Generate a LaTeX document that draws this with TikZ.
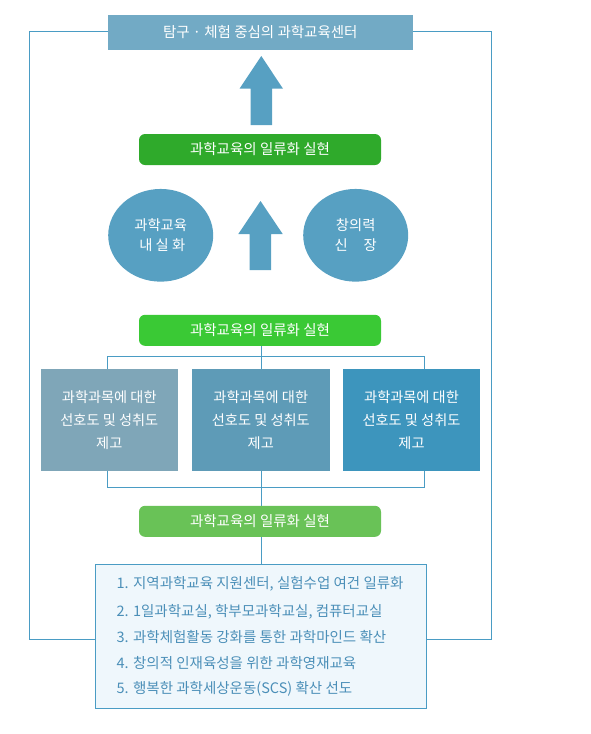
\documentclass[tikz,border=0pt]{standalone}
\usepackage{fontspec}
\setmainfont{Noto Sans CJK KR}
\usetikzlibrary{backgrounds,shapes.geometric}
\definecolor{topc}{HTML}{72AAC5}
\definecolor{arrowc}{HTML}{57A0C2}
\definecolor{gA}{HTML}{2FAA2B}
\definecolor{gB}{HTML}{3AC935}
\definecolor{gC}{HTML}{69C257}
\definecolor{ellc}{HTML}{57A0C2}
\definecolor{bA}{HTML}{7FA6B8}
\definecolor{bB}{HTML}{5E9BB7}
\definecolor{bC}{HTML}{3D95BD}
\definecolor{linec}{HTML}{4A9CC4}
\definecolor{listfill}{HTML}{EFF7FC}
\definecolor{listtext}{HTML}{4B8FB8}
\begin{document}
\begin{tikzpicture}[x=1pt,y=-1pt,
  every node/.style={inner sep=0pt,outer sep=0pt},
  conn/.style={draw=linec,line width=0.8pt},
  greenbar/.style={rounded corners=6pt,minimum width=242pt,minimum height=31pt,text=white,font=\fontsize{14.5}{16}\selectfont},
  ellnode/.style={ellipse,fill=ellc,minimum width=105pt,minimum height=92.7pt,text=white,align=center,font=\fontsize{14.3}{20}\selectfont},
  boxnode/.style={minimum height=101.7pt,text=white,align=center,font=\fontsize{14.2}{23}\selectfont},
  listline/.style={anchor=base west,text=listtext,font=\fontsize{14.5}{16}\selectfont},
  bigarrow/.style={fill=arrowc}
]
\useasboundingbox (0,0) rectangle (590,734);

% top box
\node[fill=topc,minimum width=304.7pt,minimum height=34.7pt,text=white,font=\fontsize{14.5}{16}\selectfont] (top) at (260.3,32.3) {탐구 · 체험 중심의 과학교육센터};

% arrow 1
\fill[bigarrow] (261.3,56) -- (283,88.7) -- (272,88.7) -- (272,125) -- (250.7,125) -- (250.7,88.7) -- (239.5,88.7) -- cycle;

\node[greenbar,fill=gA] (g1) at (260,149.5) {과학교육의 일류화 실현};

% ellipses
\node[ellnode] (e1) at (160.7,235.3) {과학교육\\\ 내 실 화};
\node[ellnode] (e2) at (355.7,235.3) {창의력\\신\hspace{16pt}장};

% arrow 2
\fill[bigarrow] (260.5,201) -- (282.7,234) -- (271,234) -- (271,270) -- (249.7,270) -- (249.7,234) -- (238.3,234) -- cycle;

\node[greenbar,fill=gB] (g2) at (260,330.3) {과학교육의 일류화 실현};

% three boxes
\node[boxnode,fill=bA,minimum width=137.3pt] (b1) at (109.3,419.8) {과학과목에 대한\\선호도 및 성취도\\제고};
\node[boxnode,fill=bB,minimum width=137.7pt] (b2) at (260.8,419.8) {과학과목에 대한\\선호도 및 성취도\\제고};
\node[boxnode,fill=bC,minimum width=137pt] (b3) at (411.5,419.8) {과학과목에 대한\\선호도 및 성취도\\제고};

\node[greenbar,fill=gC] (g3) at (260,521.3) {과학교육의 일류화 실현};

% list box
\node[draw=linec,line width=0.8pt,fill=listfill,minimum width=331pt,minimum height=144pt] (list) at (260.5,636.3) {};
\node[listline] (l1) at (116.7,588.6) {1. 지역과학교육 지원센터, 실험수업 여건 일류화};
\node[listline] (l2) at (116.7,616.3) {2. 1일과학교실, 학부모과학교실, 컴퓨터교실};
\node[listline] (l3) at (116.7,642.0) {3. 과학체험활동 강화를 통한 과학마인드 확산};
\node[listline] (l4) at (116.7,668.0) {4. 창의적 인재육성을 위한 과학영재교육};
\node[listline] (l5) at (116.7,693.6) {5. 행복한 과학세상운동(SCS) 확산 선도};

% connectors
\coordinate (x1) at (107.7,0);
\coordinate (x2) at (261.7,0);
\coordinate (x3) at (424.7,0);
\coordinate (ju) at (261.7,356);
\coordinate (jd) at (261.7,487);
\coordinate (fl) at (29,639.3);
\coordinate (fr) at (491,639.3);
\coordinate (ftl) at (29,31.3);
\coordinate (ftr) at (491,31.3);

\begin{scope}[on background layer]
\draw[conn] (x2 |- g2.south) -- (ju);
\draw[conn] (x1 |- b1.north) -- (x1 |- ju) -- (x3 |- ju) -- (x3 |- b3.north);
\draw[conn] (ju) -- (x2 |- b2.north);
\draw[conn] (x1 |- b1.south) -- (x1 |- jd) -- (x3 |- jd) -- (x3 |- b3.south);
\draw[conn] (x2 |- b2.south) -- (x2 |- list.north);
\draw[conn] (top.west |- ftl) -- (ftl) -- (fl) -- (list.west |- fl);
\draw[conn] (top.east |- ftr) -- (ftr) -- (fr) -- (list.east |- fr);
\end{scope}
\end{tikzpicture}
\end{document}
